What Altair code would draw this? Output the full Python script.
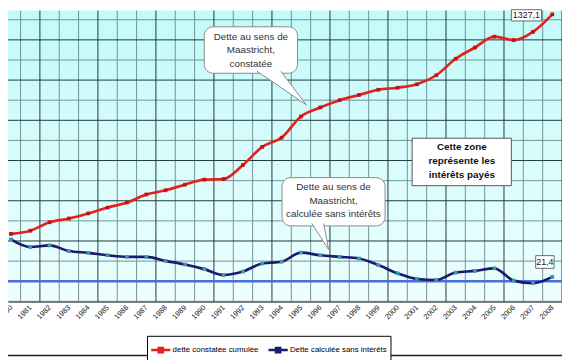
import altair as alt
import pandas as pd

# ---------------- data ----------------
years = list(range(1980, 2009))
dette_constatee = [235, 251, 293, 312, 337, 366, 391, 431, 452, 480, 505, 508, 578, 668,
                   714, 819, 864, 900, 926, 952, 962, 979, 1024, 1106, 1162, 1216, 1199,
                   1240, 1327.1]
dette_sans_interets = [208, 170, 178, 150, 141, 129, 121, 121, 101, 83, 60, 31, 48, 88,
                       97, 142, 129, 121, 113, 80, 39, 11, 6, 43, 51, 64, 3, -10, 21.4]
series_names = ["dette constatée cumulée", "Dette calculée sans intérêts"]
reference_line = [0]
y_gridlines = list(range(-100, 1400, 100))
x_gridlines = [y + 0.5 for y in years]

callout_texts = [["Dette au sens de", "Maastricht,", "constatée"],
                 ["Dette au sens de", "Maastricht,", "calculée sans intérêts"]]
zone_text = ["Cette zone", "représente les", "intérêts payés"]

# ---------------- styles ----------------
line_colors = ["#e2231c", "#1a1a70"]
marker_colors = ["#c40f16", "#3e989e"]
W, H = 562, 295
FONT = "Liberation Sans"

x_scale = alt.Scale(domain=[1979.85, 2008.5], nice=False, zero=False)
y_scale = alt.Scale(domain=[-100, 1346], nice=False, zero=False)
x_axis = alt.Axis(values=years, format="d", labelAngle=-45, labelAlign="right",
                  labelBaseline="middle", labelPadding=5, labelFont=FONT,
                  labelFontSize=7.5, labelColor="#111", grid=False, ticks=False,
                  domainColor="#000", domainWidth=1.5, title=None,
                  labelOverlap=False, labelFlush=False, labelBound=False)


def X(field):
    return alt.X(field, type="quantitative", scale=x_scale, axis=x_axis)


def Y(field):
    return alt.Y(field, type="quantitative", scale=y_scale, axis=None)


df = pd.DataFrame({
    "year": years * 2,
    "value": dette_constatee + dette_sans_interets,
    "series": [series_names[0]] * len(years) + [series_names[1]] * len(years),
})

# background gradient
background = alt.Chart(pd.DataFrame({"a": [0]})).mark_rect(
    color=alt.Gradient(gradient="linear",
                       stops=[alt.GradientStop(color="#c2fafa", offset=0),
                              alt.GradientStop(color="#eefefe", offset=1)],
                       x1=0, x2=0, y1=0, y2=1)
).encode(x=alt.value(0), x2=alt.value(W), y=alt.value(0), y2=alt.value(H))

ygrid = pd.DataFrame({"v": y_gridlines})
ygrid["major"] = ygrid["v"] % 200 == 0
xgrid = pd.DataFrame({"v": x_gridlines})
xgrid["major"] = ((xgrid["v"] - 1981.5) % 3).round(3) == 0

MAJOR, MINOR = "#203838", "#6e9494"
ygrid_major = alt.Chart(ygrid[ygrid.major]).mark_rule(color=MAJOR, strokeWidth=1).encode(y=Y("v"))
ygrid_minor = alt.Chart(ygrid[~ygrid.major]).mark_rule(color=MINOR, strokeWidth=1).encode(y=Y("v"))
xgrid_major = alt.Chart(xgrid[xgrid.major]).mark_rule(color=MAJOR, strokeWidth=1).encode(x=X("v"))
xgrid_minor = alt.Chart(xgrid[~xgrid.major]).mark_rule(color=MINOR, strokeWidth=1).encode(x=X("v"))

zero_line = alt.Chart(pd.DataFrame({"v": reference_line})).mark_rule(
    color="#4b6fdc", strokeWidth=2.5).encode(y=Y("v"))

legend_symbol = "M-1,0 L1,0 M-0.22,-0.22 L0.22,-0.22 L0.22,0.22 L-0.22,0.22 Z"
lines = alt.Chart(df).mark_line(interpolate="monotone", strokeWidth=2.7).encode(
    x=X("year"), y=Y("value"),
    color=alt.Color("series:N", scale=alt.Scale(domain=series_names, range=line_colors),
                    legend=alt.Legend(title=None, orient="none", legendX=141, legendY=330,
                                      direction="horizontal", columns=2,
                                      symbolType=legend_symbol, symbolSize=380,
                                      symbolStrokeWidth=2.5, labelFont=FONT,
                                      labelFontSize=8, labelColor="#000",
                                      strokeColor="#000", fillColor="#fff", padding=3,
                                      columnPadding=4, labelOffset=1, labelLimit=0)),
)
markers = alt.Chart(df).mark_square(size=14, opacity=1).encode(
    x=X("year"), y=Y("value"),
    fill=alt.Fill("series:N", scale=alt.Scale(domain=series_names, range=marker_colors),
                  legend=None),
)

# callouts (anchored in data coordinates); ty = first text line
callouts = pd.DataFrame({
    "x1": [1990.0, 1994.02], "x2": [1994.82, 1999.35],
    "y1": [1265, 515], "y2": [1034, 275],
    "tx": [1992.41, 1996.68], "ty": [1214, 466],
    "label": callout_texts,
})
callout_boxes = alt.Chart(callouts).mark_rect(
    fill="white", stroke="#8a8a8a", strokeWidth=1, cornerRadius=9
).encode(x=X("x1"), x2="x2", y=Y("y1"), y2="y2")
callout_text = alt.Chart(callouts).mark_text(
    font=FONT, fontSize=10, lineHeight=13.5, color="#333", align="center", baseline="middle"
).encode(x=X("tx"), y=Y("ty"), text="label")

tail1 = alt.Chart(pd.DataFrame({"x": [1995.28], "y": [877]})).mark_point(
    shape="M -50 -34 L 0 0 L -26 -34", size=4, filled=True, fill="white",
    stroke="#8a8a8a", strokeWidth=1, opacity=1
).encode(x=X("x"), y=Y("y"))
tail2 = alt.Chart(pd.DataFrame({"x": [1996.43], "y": [157]})).mark_point(
    shape="M -17 -26.5 L 0 0 L -5 -26.5", size=4, filled=True, fill="white",
    stroke="#8a8a8a", strokeWidth=1, opacity=1
).encode(x=X("x"), y=Y("y"))

zone = pd.DataFrame({"x1": [2000.75], "x2": [2005.88], "y1": [711], "y2": [475],
                     "tx": [2003.32], "ty": [668], "label": [zone_text]})
zone_box = alt.Chart(zone).mark_rect(fill="white", stroke="#555", strokeWidth=1).encode(
    x=X("x1"), x2="x2", y=Y("y1"), y2="y2")
zone_label = alt.Chart(zone).mark_text(
    font=FONT, fontSize=10, fontWeight="bold", lineHeight=14.5, color="#111",
    align="center", baseline="middle").encode(x=X("tx"), y=Y("ty"), text="label")

# end value labels
end_labels = pd.DataFrame({
    "x1": [2005.88, 2007.14], "x2": [2007.44, 2008.09],
    "y1": [1350, 127], "y2": [1294, 64],
    "tx": [2006.66, 2007.615], "ty": [1322, 96],
    "label": [f"{dette_constatee[-1]}".replace(".", ","),
              f"{dette_sans_interets[-1]}".replace(".", ",")],
})
end_boxes = alt.Chart(end_labels).mark_rect(fill="white", stroke="#444", strokeWidth=0.8).encode(
    x=X("x1"), x2="x2", y=Y("y1"), y2="y2")
end_text = alt.Chart(end_labels).mark_text(
    font=FONT, fontSize=9, color="#222", align="center", baseline="middle"
).encode(x=X("tx"), y=Y("ty"), text="label")

frame = alt.Chart(pd.DataFrame({"a": [0]})).mark_rule(color="#222", strokeWidth=1.5).encode(
    x=alt.value(0), x2=alt.value(W), y=alt.value(350))

chart = alt.layer(
    background, xgrid_minor, ygrid_minor, xgrid_major, ygrid_major, zero_line,
    lines, markers, callout_boxes, tail1, tail2, callout_text, zone_box, zone_label,
    end_boxes, end_text, frame
).resolve_scale(color="independent").properties(
    width=W, height=H,
    padding={"left": 0, "top": 0, "right": 0, "bottom": 57},
    autosize=alt.AutoSizeParams(type="none"),
).configure_view(stroke=None)

chart.save("out.html", embed_options={"renderer": "svg", "actions": False})
